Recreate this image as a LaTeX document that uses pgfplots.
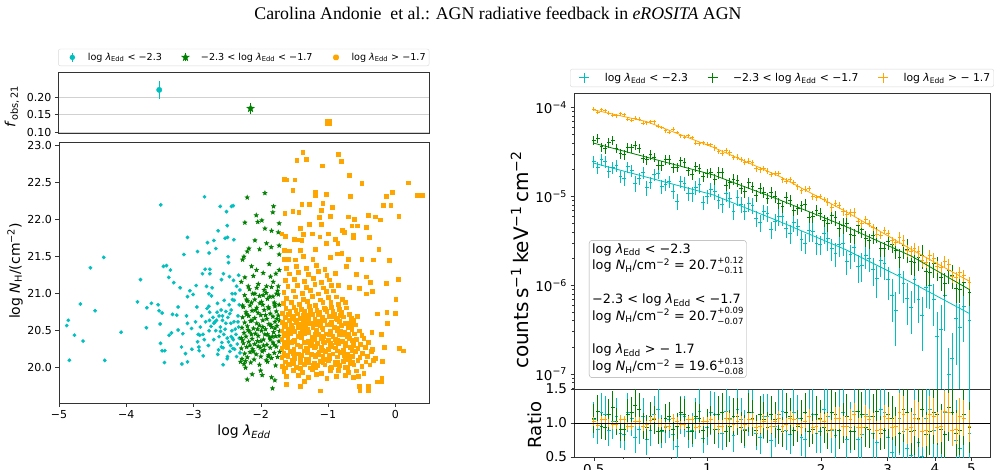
\documentclass[border=0pt]{standalone}
\usepackage{pgfplots}
\pgfplotsset{compat=1.18}
\usepackage{pgfplotstable}
\usepackage{fontspec}
\setmainfont{DejaVu Sans}
\newfontfamily\timesfont{Liberation Serif}
\usetikzlibrary{plotmarks}
\definecolor{mc}{RGB}{0,191,191}
\definecolor{mg}{RGB}{0,128,0}
\definecolor{mo}{RGB}{255,165,0}
\newcommand{\lamE}{\textit{λ}\textsubscript{Edd}}
\newcommand{\NH}{\textit{N}\textsubscript{H}}
\newcommand{\pmerr}[2]{\rlap{\raisebox{0.52em}{\fontsize{8.5}{8.5}\selectfont #1}}\raisebox{-0.3em}{\fontsize{8.5}{8.5}\selectfont #2}}
\pgfdeclareplotmark{fstar}{%
  \pgfpathmoveto{\pgfpointpolar{90}{\pgfplotmarksize}}%
  \pgfpathlineto{\pgfpointpolar{126}{0.42\pgfplotmarksize}}%
  \pgfpathlineto{\pgfpointpolar{162}{\pgfplotmarksize}}%
  \pgfpathlineto{\pgfpointpolar{198}{0.42\pgfplotmarksize}}%
  \pgfpathlineto{\pgfpointpolar{234}{\pgfplotmarksize}}%
  \pgfpathlineto{\pgfpointpolar{270}{0.42\pgfplotmarksize}}%
  \pgfpathlineto{\pgfpointpolar{306}{\pgfplotmarksize}}%
  \pgfpathlineto{\pgfpointpolar{342}{0.42\pgfplotmarksize}}%
  \pgfpathlineto{\pgfpointpolar{18}{\pgfplotmarksize}}%
  \pgfpathlineto{\pgfpointpolar{54}{0.42\pgfplotmarksize}}%
  \pgfpathclose\pgfusepathqfillstroke}

\pgfplotsset{
  myax/.style={scale only axis, anchor=south west,
    axis line style={black!80, line width=0.6pt},
    tick align=outside, tick pos=left,
    major tick length=3.5pt, minor tick length=2pt,
    every tick/.style={black!80, line width=0.6pt},
    /pgf/number format/assume math mode=true},
  ebar/.style={draw=none, mark=none,
    error bars/.cd, y dir=both, y explicit relative, x dir=both, x fixed relative=0.0115,
    error mark=none, error bar style={draw=#1, line width=0.9pt}},
}

% spectra: energy, flux, rel. error, ratio, ratio rel. error
\pgfplotstableread{
E f e r er
0.500 2.48e-5 0.15 1.047 0.25
0.524 2.58e-5 0.15 1.148 0.25
0.548 1.91e-5 0.15 0.891 0.25
0.574 2.22e-5 0.15 1.096 0.25
0.601 1.60e-5 0.18 0.832 0.28
0.630 1.96e-5 0.15 1.072 0.25
0.659 1.58e-5 0.15 0.912 0.25
0.690 1.25e-5 0.20 0.759 0.30
0.723 1.75e-5 0.15 1.122 0.25
0.757 1.29e-5 0.18 0.871 0.28
0.792 1.48e-5 0.15 1.047 0.25
0.830 8.83e-6 0.20 0.661 0.30
0.869 1.39e-5 0.18 1.096 0.28
0.910 1.07e-5 0.18 0.891 0.28
0.953 1.35e-5 0.18 1.175 0.28
0.998 1.01e-5 0.18 0.933 0.28
1.045 1.15e-5 0.20 1.122 0.30
1.094 8.05e-6 0.20 0.851 0.30
1.146 9.38e-6 0.20 1.072 0.30
1.200 9.73e-6 0.20 1.202 0.30
1.256 6.82e-6 0.20 0.912 0.30
1.315 7.94e-6 0.20 1.148 0.30
1.377 5.08e-6 0.22 0.794 0.32
1.442 6.49e-6 0.20 1.096 0.30
1.510 5.22e-6 0.22 0.955 0.32
1.581 5.93e-6 0.22 1.175 0.32
1.656 3.86e-6 0.25 0.832 0.35
1.734 4.58e-6 0.22 1.072 0.32
1.816 2.99e-6 0.25 0.759 0.35
1.901 4.06e-6 0.25 1.122 0.35
1.991 2.90e-6 0.25 0.871 0.35
2.084 3.36e-6 0.28 1.096 0.38
2.183 2.29e-6 0.30 0.813 0.40
2.285 2.98e-6 0.28 1.148 0.38
2.393 2.20e-6 0.30 0.933 0.40
2.506 1.63e-6 0.35 0.759 0.45
2.624 2.18e-6 0.30 1.122 0.40
2.748 1.50e-6 0.35 0.851 0.45
2.877 1.92e-6 0.35 1.202 0.45
3.013 1.15e-6 0.40 0.794 0.50
3.155 5.24e-7 0.60 0.398 0.70
3.304 1.04e-6 0.40 0.871 0.50
3.459 5.68e-7 0.50 0.525 0.60
3.622 6.89e-7 0.45 0.708 0.55
3.793 9.35e-7 0.40 1.072 0.50
3.972 6.98e-7 0.50 0.891 0.60
4.159 3.15e-7 0.90 0.447 0.95
4.355 1.00e-7 0.95 0.158 0.95
4.560 4.21e-7 0.70 0.741 0.80
4.775 5.71e-7 0.60 1.122 0.70
4.940 4.05e-7 0.95 0.851 0.95
0.512 2.10e-5 0.15 0.912 0.25
0.536 2.46e-5 0.15 1.122 0.25
0.561 2.13e-5 0.15 1.023 0.25
0.588 1.68e-5 0.15 0.851 0.25
0.615 2.15e-5 0.15 1.148 0.25
0.644 1.41e-5 0.20 0.794 0.30
0.675 1.85e-5 0.15 1.096 0.25
0.706 1.43e-5 0.15 0.891 0.25
0.740 1.83e-5 0.15 1.202 0.25
0.774 1.35e-5 0.15 0.933 0.25
0.811 1.14e-5 0.18 0.832 0.28
0.849 1.46e-5 0.15 1.122 0.25
0.889 1.08e-5 0.18 0.871 0.28
0.931 1.26e-5 0.18 1.072 0.28
0.975 8.65e-6 0.18 0.776 0.28
1.021 1.21e-5 0.18 1.148 0.28
1.069 8.97e-6 0.20 0.912 0.30
1.119 1.07e-5 0.20 1.175 0.30
1.172 6.84e-6 0.20 0.813 0.30
1.227 8.15e-6 0.20 1.047 0.30
1.285 8.26e-6 0.20 1.148 0.30
1.345 5.66e-6 0.20 0.851 0.30
1.409 6.75e-6 0.20 1.096 0.30
1.475 4.22e-6 0.22 0.741 0.32
1.545 5.89e-6 0.22 1.122 0.32
1.617 4.32e-6 0.22 0.891 0.32
1.694 5.12e-6 0.22 1.148 0.32
1.773 3.26e-6 0.25 0.794 0.35
1.857 4.13e-6 0.25 1.096 0.35
1.944 2.95e-6 0.25 0.851 0.35
2.036 3.84e-6 0.25 1.202 0.35
2.132 2.62e-6 0.28 0.891 0.38
2.232 2.90e-6 0.28 1.072 0.38
2.337 1.87e-6 0.30 0.759 0.40
2.447 2.64e-6 0.30 1.175 0.40
2.562 1.69e-6 0.35 0.832 0.45
2.683 2.03e-6 0.30 1.096 0.40
2.809 1.19e-6 0.40 0.708 0.50
2.942 1.75e-6 0.35 1.148 0.45
3.080 7.76e-7 0.50 0.562 0.60
3.225 1.34e-6 0.40 1.072 0.50
3.377 7.16e-7 0.50 0.631 0.60
3.536 1.15e-6 0.45 1.122 0.55
3.703 4.61e-7 0.60 0.501 0.70
3.877 9.93e-7 0.45 1.202 0.55
4.060 2.64e-7 0.90 0.355 0.95
4.251 7.66e-7 0.60 1.148 0.70
4.451 1.50e-7 0.95 0.251 0.95
4.661 3.39e-7 0.80 0.631 0.90
}\specC
\pgfplotstableread{
E f e r er
0.500 4.27e-5 0.12 1.072 0.20
0.524 3.61e-5 0.12 0.955 0.20
0.548 4.03e-5 0.12 1.122 0.20
0.574 3.48e-5 0.12 1.023 0.20
0.601 2.95e-5 0.12 0.912 0.20
0.630 3.52e-5 0.12 1.148 0.20
0.659 3.50e-5 0.12 1.202 0.20
0.690 2.58e-5 0.12 0.933 0.20
0.723 2.75e-5 0.12 1.047 0.20
0.757 2.22e-5 0.12 0.891 0.20
0.792 2.59e-5 0.12 1.096 0.20
0.830 2.14e-5 0.12 0.955 0.20
0.869 2.39e-5 0.12 1.122 0.20
0.910 1.76e-5 0.12 0.871 0.20
0.953 2.06e-5 0.12 1.072 0.20
0.998 1.82e-5 0.12 1.000 0.20
1.045 1.57e-5 0.15 0.912 0.25
1.094 1.84e-5 0.15 1.148 0.25
1.146 1.42e-5 0.15 0.955 0.25
1.200 1.51e-5 0.15 1.096 0.25
1.256 1.14e-5 0.15 0.891 0.25
1.315 1.28e-5 0.15 1.072 0.25
1.377 1.24e-5 0.15 1.122 0.25
1.442 9.59e-6 0.15 0.933 0.25
1.510 1.00e-5 0.15 1.047 0.25
1.581 7.73e-6 0.15 0.871 0.25
1.656 9.00e-6 0.15 1.096 0.25
1.734 7.24e-6 0.15 0.955 0.25
1.816 8.05e-6 0.15 1.148 0.25
1.901 5.92e-6 0.15 0.912 0.25
1.991 6.43e-6 0.15 1.072 0.25
2.084 4.94e-6 0.20 0.891 0.30
2.183 5.74e-6 0.20 1.122 0.30
2.285 4.73e-6 0.20 1.000 0.30
2.393 3.78e-6 0.20 0.871 0.30
2.506 4.67e-6 0.20 1.175 0.30
2.624 3.40e-6 0.20 0.933 0.30
2.748 3.65e-6 0.20 1.096 0.30
2.877 2.59e-6 0.20 0.851 0.30
3.013 3.13e-6 0.20 1.122 0.30
3.155 2.44e-6 0.20 0.955 0.30
3.304 2.81e-6 0.30 1.202 0.40
3.459 1.86e-6 0.30 0.871 0.40
3.622 2.05e-6 0.30 1.072 0.40
3.793 1.42e-6 0.30 0.832 0.40
3.972 1.74e-6 0.30 1.148 0.40
4.159 1.23e-6 0.30 0.912 0.40
4.355 1.48e-6 0.30 1.230 0.40
4.560 9.12e-7 0.30 0.851 0.40
4.775 1.07e-6 0.30 1.122 0.40
4.940 8.26e-7 0.30 0.933 0.40
0.512 4.55e-5 0.12 1.175 0.20
0.536 3.44e-5 0.12 0.933 0.20
0.561 4.30e-5 0.12 1.230 0.20
0.588 3.03e-5 0.12 0.912 0.20
0.615 3.53e-5 0.12 1.122 0.20
0.644 3.76e-5 0.12 1.259 0.20
0.675 2.71e-5 0.12 0.955 0.20
0.706 2.95e-5 0.12 1.096 0.20
0.740 2.23e-5 0.12 0.871 0.20
0.774 2.60e-5 0.12 1.072 0.20
0.811 2.10e-5 0.12 0.912 0.20
0.849 2.51e-5 0.12 1.148 0.20
0.889 1.94e-5 0.12 0.933 0.20
0.931 2.16e-5 0.12 1.096 0.20
0.975 1.67e-5 0.12 0.891 0.20
1.021 1.85e-5 0.12 1.047 0.20
1.069 1.86e-5 0.15 1.122 0.25
1.119 1.34e-5 0.15 0.871 0.25
1.172 1.57e-5 0.15 1.096 0.25
1.227 1.24e-5 0.15 0.933 0.25
1.285 1.42e-5 0.15 1.148 0.25
1.345 1.02e-5 0.15 0.891 0.25
1.409 1.12e-5 0.15 1.047 0.25
1.475 1.11e-5 0.15 1.122 0.25
1.545 8.39e-6 0.15 0.912 0.25
1.617 9.79e-6 0.15 1.148 0.25
1.694 7.03e-6 0.15 0.891 0.25
1.773 7.82e-6 0.15 1.072 0.25
1.857 5.87e-6 0.15 0.871 0.25
1.944 7.00e-6 0.15 1.122 0.25
2.036 5.38e-6 0.15 0.933 0.25
2.132 6.11e-6 0.20 1.148 0.30
2.232 4.39e-6 0.20 0.891 0.30
2.337 4.97e-6 0.20 1.096 0.30
2.447 3.61e-6 0.20 0.871 0.30
2.562 4.27e-6 0.20 1.122 0.30
2.683 3.17e-6 0.20 0.912 0.30
2.809 3.74e-6 0.20 1.175 0.30
2.942 2.59e-6 0.20 0.891 0.30
3.080 2.86e-6 0.20 1.072 0.30
3.225 2.07e-6 0.25 0.851 0.35
3.377 2.56e-6 0.30 1.148 0.40
3.536 1.80e-6 0.30 0.891 0.40
3.703 2.17e-6 0.30 1.202 0.40
3.877 1.40e-6 0.30 0.871 0.40
4.060 1.61e-6 0.30 1.122 0.40
4.251 1.06e-6 0.30 0.832 0.40
4.451 1.30e-6 0.30 1.148 0.40
4.661 9.02e-7 0.30 0.891 0.40
}\specG
\pgfplotstableread{
E f e r er
0.500 9.64e-5 0.05 1.023 0.06
0.524 9.44e-5 0.05 1.047 0.06
0.548 8.63e-5 0.05 1.000 0.06
0.574 8.07e-5 0.05 0.977 0.06
0.601 8.30e-5 0.05 1.047 0.06
0.630 7.24e-5 0.05 0.955 0.06
0.659 7.43e-5 0.05 1.023 0.06
0.690 6.78e-5 0.05 0.977 0.06
0.723 6.90e-5 0.05 1.072 0.06
0.757 5.97e-5 0.05 1.000 0.06
0.792 5.28e-5 0.05 0.955 0.06
0.830 5.26e-5 0.05 1.023 0.06
0.869 4.66e-5 0.05 0.977 0.06
0.910 4.62e-5 0.05 1.047 0.06
0.953 3.91e-5 0.05 0.955 0.06
0.998 3.89e-5 0.05 1.023 0.06
1.045 3.52e-5 0.07 1.000 0.10
1.094 3.08e-5 0.07 0.955 0.10
1.146 3.10e-5 0.07 1.047 0.10
1.200 2.78e-5 0.07 1.023 0.10
1.256 2.44e-5 0.07 0.977 0.10
1.315 2.39e-5 0.07 1.047 0.10
1.377 2.00e-5 0.07 0.955 0.10
1.442 1.93e-5 0.07 1.000 0.10
1.510 1.81e-5 0.07 1.023 0.10
1.581 1.54e-5 0.07 0.955 0.10
1.656 1.56e-5 0.07 1.072 0.10
1.734 1.28e-5 0.07 0.977 0.10
1.816 1.21e-5 0.07 1.023 0.10
1.901 9.93e-6 0.07 0.933 0.10
1.991 1.005e-5 0.07 1.047 0.10
2.084 8.65e-6 0.10 1.000 0.15
2.183 8.36e-6 0.10 1.072 0.15
2.285 6.71e-6 0.10 0.955 0.15
2.393 6.59e-6 0.10 1.047 0.15
2.506 5.25e-6 0.10 0.933 0.15
2.624 5.51e-6 0.10 1.096 0.15
2.748 4.49e-6 0.10 1.000 0.15
2.877 3.66e-6 0.10 0.912 0.15
3.013 3.84e-6 0.10 1.072 0.15
3.155 3.05e-6 0.10 0.955 0.15
3.304 3.20e-6 0.15 1.122 0.25
3.459 2.38e-6 0.15 0.933 0.25
3.622 2.39e-6 0.15 1.047 0.25
3.793 1.83e-6 0.15 0.891 0.25
3.972 2.02e-6 0.15 1.096 0.25
4.159 1.58e-6 0.15 0.955 0.25
4.355 1.71e-6 0.15 1.148 0.25
4.560 1.22e-6 0.15 0.912 0.25
4.775 1.29e-6 0.15 1.072 0.25
4.940 1.07e-6 0.15 0.955 0.25
0.512 8.89e-5 0.05 0.966 0.06
0.536 9.23e-5 0.05 1.047 0.06
0.561 8.24e-5 0.05 0.977 0.06
0.588 8.57e-5 0.05 1.059 0.06
0.615 7.40e-5 0.05 0.955 0.06
0.644 7.59e-5 0.05 1.023 0.06
0.675 6.70e-5 0.05 0.944 0.06
0.706 6.92e-5 0.05 1.035 0.06
0.740 6.19e-5 0.05 1.000 0.06
0.774 5.48e-5 0.05 0.955 0.06
0.811 5.71e-5 0.05 1.072 0.06
0.849 4.83e-5 0.05 0.977 0.06
0.889 4.80e-5 0.05 1.047 0.06
0.931 3.96e-5 0.05 0.933 0.06
0.975 4.04e-5 0.05 1.023 0.06
1.021 3.83e-5 0.05 1.047 0.06
1.069 3.21e-5 0.07 0.955 0.10
1.119 3.30e-5 0.07 1.072 0.10
1.172 2.77e-5 0.07 0.977 0.10
1.227 2.60e-5 0.07 1.000 0.10
1.285 2.50e-5 0.07 1.047 0.10
1.345 2.04e-5 0.07 0.933 0.10
1.409 2.06e-5 0.07 1.023 0.10
1.475 1.76e-5 0.07 0.955 0.10
1.545 1.81e-5 0.07 1.072 0.10
1.617 1.49e-5 0.07 0.977 0.10
1.694 1.44e-5 0.07 1.047 0.10
1.773 1.16e-5 0.07 0.933 0.10
1.857 1.23e-5 0.07 1.096 0.10
1.944 9.64e-6 0.07 0.955 0.10
2.036 9.31e-6 0.07 1.023 0.10
2.132 7.48e-6 0.10 0.912 0.15
2.232 7.93e-6 0.10 1.072 0.15
2.337 6.35e-6 0.10 0.955 0.15
2.447 6.67e-6 0.10 1.122 0.15
2.562 4.95e-6 0.10 0.933 0.15
2.683 4.97e-6 0.10 1.047 0.15
2.809 3.78e-6 0.10 0.891 0.15
2.942 4.15e-6 0.10 1.096 0.15
3.080 3.16e-6 0.10 0.933 0.15
3.225 3.46e-6 0.15 1.148 0.25
3.377 2.45e-6 0.15 0.912 0.25
3.536 2.58e-6 0.15 1.072 0.25
3.703 1.89e-6 0.15 0.871 0.25
3.877 2.18e-6 0.15 1.122 0.25
4.060 1.63e-6 0.15 0.933 0.25
4.251 1.85e-6 0.15 1.175 0.25
4.451 1.26e-6 0.15 0.891 0.25
4.661 1.39e-6 0.15 1.096 0.25
}\specO

\begin{document}
\begin{tikzpicture}
\useasboundingbox (0,0) rectangle (1002pt,-469pt);
\clip (0,0) rectangle (1002pt,-469pt);

\node[font=\timesfont\fontsize{17.8}{18}\selectfont, anchor=base] at (498pt,-19pt)
  {Carolina Andonie\ \ et al.: AGN radiative feedback in \textit{eROSITA} AGN};

% ---------------- top-left: f_obs panel ----------------
\begin{axis}[myax, at={(58.5pt,-133pt)}, width=370.5pt, height=61pt,
  xmin=-5, xmax=0.5, ymin=0.098, ymax=0.272,
  xtick=\empty, ytick={0.10,0.15,0.20}, yticklabels={0.10,0.15,0.20},
  tick label style={font=\fontsize{11}{12}\selectfont},
  ymajorgrids, grid style={black!18, line width=0.7pt},
  ylabel={\textit{f}\textsubscript{obs,\,21}},
  ylabel style={font=\fontsize{14}{15}\selectfont, at={(axis description cs:-0.126,0.44)}, anchor=center},
  legend columns=3,
  legend style={at={(0.5,1)}, anchor=south, yshift=6pt, draw=black!15, rounded corners=2pt,
    font=\fontsize{9.6}{10.5}\selectfont, inner xsep=2pt, inner ysep=2pt,
    nodes={inner xsep=1.5pt},
    /tikz/every even column/.append style={column sep=10pt}},
  legend cell align=left]
\addlegendimage{draw=none, legend image code/.code={\draw[mc, line width=1pt] (12pt,-4.5pt)--(12pt,4.5pt);
    \fill[mc] (12pt,0pt) circle (2.7pt); \path[draw=none] (0pt,0pt) rectangle (26pt,0.1pt);}}
\addlegendentry{log \lamE{} < −2.3}
\addlegendimage{draw=none, legend image code/.code={\draw[mg, line width=1pt] (12pt,-4pt)--(12pt,4pt);
    \path[draw=mg, fill=mg] plot[mark=fstar, mark size=4pt] coordinates {(12pt,0pt)}; \path[draw=none] (0pt,0pt) rectangle (26pt,0.1pt);}}
\addlegendentry{−2.3 < log \lamE{} < −1.7}
\addlegendimage{draw=none, legend image code/.code={\fill[mo] (9.2pt,-2.8pt) rectangle (14.8pt,2.8pt); \path[draw=none] (0pt,0pt) rectangle (26pt,0.1pt);}}
\addlegendentry{log \lamE{} > −1.7}
\addplot[only marks, mark=*, mark size=2.7pt, color=mc, forget plot,
  error bars/.cd, y dir=both, y explicit, error mark=none, error bar style={line width=1.1pt}]
  coordinates {(-3.505,0.221) +- (0,0.025)};
\addplot[only marks, mark=fstar, mark size=4pt, color=mg, forget plot,
  error bars/.cd, y dir=both, y explicit, error mark=none, error bar style={line width=1.1pt}]
  coordinates {(-2.149,0.168) +- (0,0.015)};
\addplot[only marks, mark=square*, mark size=2.8pt, color=mo, forget plot,
  error bars/.cd, y dir=both, y explicit, error mark=none, error bar style={line width=1.1pt}]
  coordinates {(-0.993,0.128) +- (0,0.004)};
\end{axis}

% ---------------- left: scatter panel ----------------
\begin{axis}[myax, at={(59pt,-403pt)}, width=370pt, height=261pt,
  xmin=-5, xmax=0.5, ymin=19.523, ymax=23.05,
  xtick={-5,-4,-3,-2,-1,0}, xticklabels={−5,−4,−3,−2,−1,0},
  ytick={20,20.5,21,21.5,22,22.5,23}, yticklabels={20.0,20.5,21.0,21.5,22.0,22.5,23.0},
  tick label style={font=\fontsize{11}{12}\selectfont},
  xlabel={log \textit{λ}\textsubscript{\textit{Edd}}},
  ylabel={log \NH/(cm\textsuperscript{−2})},
  xlabel style={font=\fontsize{14}{15}\selectfont, at={(axis description cs:0.5,-0.111)}, anchor=center},
  ylabel style={font=\fontsize{14}{15}\selectfont, at={(axis description cs:-0.119,0.506)}, anchor=center}]
\addplot[only marks, mark=*, mark size=1.7pt, color=mc] coordinates {
(-4.885,20.57)(-4.861,20.64)(-4.771,20.44)(-4.846,20.10)(-4.682,20.86)(-4.642,20.36)(-4.533,21.35)(-4.464,20.77)
(-4.335,21.49)(-4.320,20.10)(-4.077,20.48)(-3.834,20.89)(-3.789,21.19)(-3.700,20.54)(-3.695,20.81)(-3.626,20.87)
(-3.527,20.85)(-3.497,20.59)(-3.487,22.20)(-3.511,20.77)(-3.467,20.74)(-3.491,20.33)(-3.467,20.23)(-3.427,20.23)
(-3.432,20.07)(-3.447,21.37)(-3.403,21.38)(-3.343,21.32)(-3.368,21.22)(-3.294,21.15)(-3.328,20.47)(-3.363,20.44)
(-3.313,20.72)(-3.249,20.71)(-3.229,20.82)(-3.229,20.51)(-3.199,21.08)(-3.179,20.28)(-3.159,20.46)(-3.144,21.53)
(-3.120,20.19)(-3.090,21.76)(-3.090,20.08)(-3.174,20.05)(-3.105,20.70)(-3.090,20.60)(-3.090,20.96)(-3.055,21.04)
(-3.030,20.53)(-3.025,20.25)(-3.006,20.99)(-2.961,21.11)(-2.941,21.57)(-2.951,20.82)(-2.931,20.45)(-2.906,20.44)
(-2.916,20.23)(-2.867,21.27)(-2.857,20.16)(-2.837,22.31)(-2.827,21.33)(-2.807,21.10)(-2.793,21.69)(-2.768,21.55)
(-2.773,21.00)(-2.773,20.83)(-2.763,20.64)(-2.758,21.33)(-2.758,21.27)(-2.768,20.50)(-2.733,20.97)(-2.723,21.08)
(-2.698,21.72)(-2.698,20.60)(-2.669,21.61)(-2.659,20.64)(-2.644,20.87)(-2.634,21.85)(-2.629,20.24)(-2.604,22.18)
(-2.599,20.49)(-2.585,21.19)(-2.585,20.28)(-2.570,20.64)(-2.560,20.04)(-2.555,21.27)(-2.545,20.91)(-2.530,21.75)
(-2.520,20.76)(-2.510,22.11)(-2.500,21.92)(-2.495,21.76)(-2.495,20.15)(-2.485,21.50)(-2.480,21.42)(-2.466,21.23)
(-2.461,20.73)(-2.446,20.60)(-2.436,22.18)(-2.426,21.00)(-2.421,20.40)(-2.416,20.26)(-2.411,22.19)(-2.401,21.73)
(-2.396,20.91)(-2.406,21.18)
(-2.65,20.75)(-2.62,20.70)(-2.60,20.55)(-2.55,20.45)(-2.52,20.60)(-2.50,20.40)(-2.48,20.35)(-2.45,20.30)
(-2.43,20.50)(-2.41,20.38)(-2.39,20.25)(-2.37,20.45)(-2.35,20.32)(-2.33,20.55)(-2.31,20.20)(-2.36,20.15)
(-2.40,20.62)(-2.44,20.78)(-2.47,20.85)(-2.53,20.52)(-2.58,20.34)(-2.62,20.42)(-2.67,20.50)(-2.70,20.38)
(-2.74,20.56)(-2.78,20.30)(-2.82,20.62)(-2.86,20.45)(-2.90,20.55)(-2.94,20.35)(-2.97,20.62)(-2.34,20.70)
(-2.32,20.85)(-2.38,21.00)(-2.42,20.92)(-2.31,21.05)(-2.33,21.25)(-2.36,21.10)(-2.56,20.27)(-2.64,20.18)
(-2.50,20.12)(-2.46,20.22)(-2.71,20.68)(-2.76,20.75)(-2.80,20.80)(-2.88,20.70)(-2.84,20.38)(-2.92,20.28)
(-2.68,20.62)(-2.59,20.78)(-2.32,20.40)(-2.34,20.62)(-2.38,20.52)(-2.44,20.42)(-2.49,20.68)(-2.57,20.70)
};
\addplot[only marks, mark=fstar, mark size=2.3pt, color=mg] coordinates {
(-1.939,22.36)(-2.202,22.30)(-1.811,22.18)(-1.821,22.10)(-2.068,22.06)(-2.237,21.96)(-1.985,21.99)(-2.045,21.97)
(-1.727,21.95)(-1.939,21.88)(-1.840,21.85)(-1.741,21.83)(-2.087,21.72)(-1.915,21.68)(-1.846,21.63)(-1.727,21.65)
(-2.177,21.61)(-2.202,21.57)(-2.018,21.60)(-1.727,21.53)(-2.251,21.50)(-2.138,21.37)(-2.271,21.46)(-1.876,21.40)
(-2.063,21.32)(-1.965,21.28)(-2.112,21.24)(-2.237,21.22)(-1.856,21.23)(-1.776,21.27)(-1.727,21.32)(-1.816,21.16)
(-2.187,21.10)(-2.038,21.13)(-1.915,21.10)(-1.741,21.10)(-2.291,21.16)(-2.087,21.00)(-1.965,20.98)(-1.866,20.96)
(-2.212,20.92)(-1.767,21.00)(-2.138,20.88)(-2.013,20.87)(-1.791,20.86)(-2.271,20.84)(-1.890,20.82)(-1.727,20.85)
(-2.202,19.84)(-2.128,19.91)(-1.980,19.90)(-1.840,19.87)(-1.791,19.83)(-1.826,19.72)(-2.227,20.00)(-2.003,19.96)
(-2.301,20.08)
(-2.25,20.05)(-2.15,20.07)(-2.02,20.04)(-1.90,20.08)(-1.78,20.03)
(-2.28,20.12)(-2.20,20.14)(-2.10,20.11)(-2.00,20.15)(-1.92,20.10)(-1.84,20.13)(-1.75,20.145)
(-2.24,20.19)(-2.16,20.21)(-2.07,20.18)(-1.98,20.22)(-1.88,20.17)(-1.80,20.20)(-1.72,20.215)
(-2.29,20.26)(-2.21,20.28)(-2.12,20.25)(-2.04,20.29)(-1.95,20.24)(-1.86,20.27)(-1.77,20.285)
(-2.26,20.33)(-2.18,20.35)(-2.09,20.32)(-2.00,20.36)(-1.91,20.31)(-1.82,20.34)(-1.73,20.355)
(-2.29,20.40)(-2.22,20.42)(-2.13,20.39)(-2.04,20.43)(-1.96,20.38)(-1.87,20.41)(-1.78,20.425)
(-2.25,20.47)(-2.17,20.49)(-2.08,20.46)(-1.99,20.50)(-1.90,20.45)(-1.81,20.48)(-1.72,20.495)
(-2.28,20.54)(-2.20,20.56)(-2.11,20.53)(-2.02,20.57)(-1.93,20.52)(-1.84,20.55)(-1.76,20.565)
(-2.24,20.61)(-2.15,20.63)(-2.06,20.60)(-1.97,20.64)(-1.88,20.59)(-1.79,20.62)(-1.72,20.635)
(-2.27,20.68)(-2.18,20.70)(-2.09,20.67)(-2.00,20.71)(-1.91,20.66)(-1.82,20.69)(-1.74,20.705)
(-2.22,20.75)(-2.13,20.77)(-2.04,20.74)(-1.95,20.78)(-1.86,20.73)(-1.77,20.76)
(-2.26,20.82)(-2.16,20.84)(-2.06,20.81)(-1.97,20.85)(-1.88,20.80)(-1.79,20.83)
(-2.20,20.90)(-2.09,20.92)(-1.99,20.89)(-1.90,20.93)(-1.80,20.88)
(-2.24,20.98)(-2.12,21.00)(-2.02,20.97)(-1.92,21.01)(-1.82,20.96)(-1.74,20.99)
(-2.17,21.06)(-2.06,21.08)(-1.95,21.05)(-1.84,21.09)(-1.75,21.04)
(-2.23,20.09)(-2.11,20.22)(-2.05,20.36)(-1.94,20.45)(-1.85,20.58)(-1.76,20.66)(-2.19,20.51)(-2.13,20.64)
(-2.01,20.27)(-1.89,20.15)(-1.80,20.31)(-1.73,20.43)(-2.27,20.37)(-2.16,20.30)(-1.97,20.55)(-1.86,20.38)
(-2.08,20.78)(-1.93,20.71)(-1.79,20.53)(-2.21,20.72)(-2.05,20.52)(-1.96,20.30)(-1.83,20.42)(-2.14,20.45)
};
\addplot[only marks, mark=square*, mark size=1.9pt, color=mo] coordinates {
(-1.378,22.91)(-1.467,22.80)(-1.328,22.82)(-0.847,22.89)(-0.807,22.79)(-1.085,22.73)(-0.683,22.60)(-1.656,22.55)
(-1.626,22.54)(-1.497,22.54)(-0.500,22.49)(-1.527,22.40)(0.195,22.50)(-1.194,22.37)(-1.194,22.33)(-1.031,22.35)
(-0.673,22.32)(-0.142,22.32)(-0.043,22.37)(0.324,22.33)(0.398,22.33)(-1.393,22.21)(-1.279,22.21)(-1.081,22.22)
(-0.936,22.17)(-0.177,22.20)(-0.068,22.20)(-1.646,22.09)(-1.527,22.11)(-1.438,22.10)(-1.106,22.13)(-1.130,22.03)
(-0.971,22.05)(-0.703,22.04)(-0.609,22.01)(-0.401,22.06)(-0.296,22.04)(-0.227,22.00)(0.050,22.05)(-1.413,21.88)
(-1.279,21.94)(-1.101,21.94)(-0.793,21.86)(-0.763,21.83)(-0.649,21.92)(-0.570,21.92)(-0.431,21.90)(-0.629,21.79)
(-0.629,21.76)(-0.386,21.76)(-1.69,21.81)(-1.641,21.78)(-1.368,21.80)(-1.239,21.81)(-1.125,21.77)(-0.996,21.81)
(-0.892,21.74)(-1.502,21.74)(-1.438,21.73)(-1.393,21.72)(-0.857,21.68)(-1.031,21.68)(-1.194,21.60)(-0.247,21.60)
(-1.656,21.59)(-1.576,21.58)(-1.418,21.59)(-0.862,21.54)(-0.798,21.55)(-0.704,21.47)(-0.500,21.47)(-0.327,21.46)
(-0.088,21.45)(-1.656,21.47)(-1.591,21.47)(-1.492,21.46)(-1.368,21.51)(-1.229,21.47)(-0.971,21.49)(-0.733,21.37)
(0.045,21.20)(-0.580,21.26)(-0.431,21.23)(-0.371,21.16)(-0.133,21.14)(-0.683,21.09)(-0.535,21.07)(-0.341,21.03)
(-0.431,21.00)(0.005,20.93)(-0.267,20.73)(-0.128,20.75)(0.000,20.74)(-0.118,20.60)(-0.351,20.48)(-0.212,20.45)
(-0.162,20.28)(0.055,20.26)(0.119,20.23)(-0.197,20.09)(-0.267,19.81)(-0.202,19.86)(-0.202,19.81)(-0.540,19.75)
(-0.401,19.75)(-0.530,19.69)(-0.406,19.69)(-1.115,19.69)(-1.413,19.75)(-1.621,19.78)(-1.353,19.82)
(-1.62,19.88)(-1.45,19.90)(-1.30,19.87)(-1.18,19.91)(-1.02,19.86)(-0.88,19.89)(-0.74,19.90)(-0.63,19.87)(-0.55,19.89)
(-1.66,19.95)(-1.52,19.97)(-1.38,19.94)(-1.24,19.98)(-1.10,19.93)(-0.97,19.96)(-0.85,19.97)(-0.70,19.94)(-0.58,19.96)(-0.47,19.93)
(-1.68,20.02)(-1.58,20.04)(-1.47,20.01)(-1.36,20.05)(-1.27,20.00)(-1.16,20.03)(-1.05,20.04)(-0.95,20.01)(-0.83,20.03)(-0.72,20.00)(-0.62,20.04)(-0.50,20.02)(-0.38,20.04)
(-1.64,20.08)(-1.54,20.10)(-1.42,20.07)(-1.33,20.11)(-1.21,20.06)(-1.12,20.09)(-1.00,20.10)(-0.90,20.07)(-0.78,20.09)(-0.67,20.06)(-0.56,20.10)(-0.44,20.08)(-0.33,20.10)
(-1.69,20.14)(-1.60,20.16)(-1.50,20.13)(-1.40,20.17)(-1.30,20.12)(-1.19,20.15)(-1.08,20.16)(-0.98,20.13)(-0.87,20.15)(-0.75,20.12)(-0.64,20.16)(-0.53,20.14)(-0.42,20.16)(-0.30,20.13)
(-1.66,20.20)(-1.56,20.22)(-1.45,20.19)(-1.35,20.23)(-1.25,20.18)(-1.14,20.21)(-1.04,20.22)(-0.93,20.19)(-0.82,20.21)(-0.71,20.18)(-0.60,20.22)(-0.49,20.20)(-0.36,20.22)
(-1.69,20.26)(-1.61,20.28)(-1.51,20.25)(-1.41,20.29)(-1.31,20.24)(-1.21,20.27)(-1.10,20.28)(-1.00,20.25)(-0.89,20.27)(-0.78,20.24)(-0.67,20.28)(-0.56,20.26)(-0.45,20.28)(-0.34,20.25)
(-1.65,20.32)(-1.55,20.34)(-1.46,20.31)(-1.36,20.35)(-1.26,20.30)(-1.16,20.33)(-1.06,20.34)(-0.95,20.31)(-0.85,20.33)(-0.74,20.30)(-0.63,20.34)(-0.52,20.32)(-0.40,20.34)
(-1.69,20.38)(-1.60,20.40)(-1.50,20.37)(-1.40,20.41)(-1.30,20.36)(-1.20,20.39)(-1.10,20.40)(-1.00,20.37)(-0.90,20.39)(-0.79,20.36)(-0.69,20.40)(-0.58,20.38)(-0.47,20.40)
(-1.66,20.44)(-1.56,20.46)(-1.45,20.43)(-1.35,20.47)(-1.24,20.42)(-1.14,20.45)(-1.03,20.46)(-0.93,20.43)(-0.83,20.45)(-0.72,20.42)(-0.61,20.46)(-0.50,20.44)
(-1.69,20.50)(-1.60,20.52)(-1.50,20.49)(-1.39,20.53)(-1.29,20.48)(-1.18,20.51)(-1.08,20.52)(-0.97,20.49)(-0.87,20.51)(-0.76,20.48)(-0.65,20.52)(-0.54,20.50)
(-1.65,20.56)(-1.55,20.58)(-1.44,20.55)(-1.34,20.59)(-1.23,20.54)(-1.12,20.57)(-1.02,20.58)(-0.91,20.55)(-0.80,20.57)(-0.70,20.54)(-0.59,20.58)
(-1.68,20.62)(-1.58,20.64)(-1.47,20.61)(-1.37,20.65)(-1.26,20.60)(-1.16,20.63)(-1.05,20.64)(-0.95,20.61)(-0.84,20.63)(-0.73,20.60)(-0.62,20.64)
(-1.64,20.68)(-1.53,20.70)(-1.42,20.67)(-1.31,20.71)(-1.20,20.66)(-1.09,20.69)(-0.99,20.70)(-0.88,20.67)(-0.77,20.69)(-0.66,20.66)(-0.57,20.70)
(-1.68,20.74)(-1.57,20.76)(-1.46,20.73)(-1.35,20.77)(-1.24,20.72)(-1.13,20.75)(-1.02,20.76)(-0.91,20.73)(-0.80,20.75)(-0.69,20.72)
(-1.63,20.80)(-1.51,20.82)(-1.40,20.79)(-1.28,20.83)(-1.17,20.78)(-1.06,20.81)(-0.95,20.82)(-0.84,20.79)(-0.73,20.81)
(-1.67,20.87)(-1.55,20.89)(-1.43,20.86)(-1.31,20.90)(-1.19,20.85)(-1.08,20.88)(-0.96,20.89)(-0.85,20.86)(-0.75,20.88)
(-1.62,20.94)(-1.49,20.96)(-1.37,20.93)(-1.24,20.97)(-1.12,20.92)(-1.00,20.95)(-0.88,20.96)(-0.79,20.93)
(-1.66,21.02)(-1.52,21.04)(-1.39,21.01)(-1.27,21.05)(-1.15,21.00)(-1.03,21.03)(-0.92,21.04)
(-1.60,21.10)(-1.46,21.12)(-1.33,21.09)(-1.20,21.13)(-1.07,21.08)(-0.95,21.11)(-0.85,21.12)
(-1.64,21.18)(-1.50,21.20)(-1.36,21.17)(-1.22,21.21)(-1.10,21.16)(-0.98,21.19)
(-1.58,21.27)(-1.44,21.29)(-1.30,21.26)(-1.15,21.30)(-1.02,21.25)(-0.90,21.28)
(-1.62,21.35)(-1.47,21.37)(-1.33,21.34)(-1.18,21.38)(-1.05,21.33)
(-1.59,20.05)(-1.41,20.11)(-1.22,20.03)(-1.06,20.12)(-0.88,20.05)(-0.69,20.13)(-1.52,20.19)(-1.33,20.26)
(-1.15,20.18)(-0.97,20.29)(-0.79,20.21)(-0.62,20.30)(-1.62,20.35)(-1.43,20.42)(-1.25,20.36)(-1.07,20.43)
(-0.88,20.35)(-0.70,20.45)(-1.56,20.50)(-1.37,20.56)(-1.18,20.48)(-1.00,20.58)(-0.82,20.50)(-0.66,20.61)
(-1.49,20.65)(-1.29,20.70)(-1.11,20.63)(-0.93,20.70)
(-1.63,20.00)(-1.52,20.06)(-1.41,19.99)(-1.30,20.07)(-1.19,20.00)(-1.08,20.07)(-0.97,20.00)(-0.86,20.07)(-0.75,20.01)(-0.64,20.08)
(-1.64,20.17)(-1.53,20.23)(-1.42,20.16)(-1.31,20.21)(-1.20,20.17)(-1.09,20.24)(-0.98,20.17)(-0.87,20.23)(-0.76,20.17)(-0.65,20.24)
(-1.63,20.29)(-1.52,20.36)(-1.41,20.29)(-1.30,20.34)(-1.19,20.29)(-1.08,20.36)(-0.97,20.33)(-0.86,20.37)(-0.75,20.33)(-0.64,20.37)
(-1.64,20.47)(-1.53,20.53)(-1.42,20.47)(-1.31,20.52)(-1.20,20.45)(-1.09,20.54)(-0.98,20.45)(-0.87,20.54)(-0.76,20.45)(-0.66,20.55)
(-1.63,20.59)(-1.52,20.67)(-1.41,20.59)(-1.30,20.66)(-1.19,20.59)(-1.08,20.66)(-0.97,20.59)(-0.86,20.66)(-0.75,20.60)(-0.65,20.67)
(-1.60,20.72)(-1.48,20.78)(-1.37,20.71)(-1.26,20.78)(-1.15,20.72)(-1.04,20.79)(-0.93,20.76)(-0.82,20.71)
};
\end{axis}

% ---------------- right: spectra ----------------
\begin{axis}[myax, at={(574pt,-389pt)}, width=416pt, height=296pt,
  xmode=log, ymode=log, xmin=0.443, xmax=5.6, ymin=6.8e-8, ymax=1.46e-4,
  xtick=\empty, ytick={1e-7,1e-6,1e-5,1e-4},
  yticklabels={10\textsuperscript{−7},10\textsuperscript{−6},10\textsuperscript{−5},10\textsuperscript{−4}},
  minor ytick={7e-8,8e-8,9e-8,2e-7,3e-7,4e-7,5e-7,6e-7,7e-7,8e-7,9e-7,2e-6,3e-6,4e-6,5e-6,6e-6,7e-6,8e-6,9e-6,2e-5,3e-5,4e-5,5e-5,6e-5,7e-5,8e-5,9e-5},
  tick label style={font=\fontsize{13.5}{14}\selectfont},
  ylabel={counts\,s\textsuperscript{−1}\,keV\textsuperscript{−1}\,cm\textsuperscript{−2}},
  ylabel style={font=\fontsize{20}{21}\selectfont, at={(axis description cs:-0.13,0.436)}, anchor=center},
  legend columns=3,
  legend style={at={(0.5,1)}, anchor=south, yshift=6pt, draw=black!15, rounded corners=2pt,
    font=\fontsize{10.8}{11.5}\selectfont, inner xsep=2pt, inner ysep=2pt,
    nodes={inner xsep=1.5pt},
    /tikz/every even column/.append style={column sep=11pt}},
  legend cell align=left]
\addlegendimage{draw=none, legend image code/.code={\draw[mc, line width=1pt] (7pt,0pt)--(17pt,0pt) (12pt,-5pt)--(12pt,5pt); \path[draw=none] (0pt,0pt) rectangle (31pt,0.1pt);}}
\addlegendentry{log \lamE{} < −2.3}
\addlegendimage{draw=none, legend image code/.code={\draw[mg, line width=1pt] (7pt,0pt)--(17pt,0pt) (12pt,-5pt)--(12pt,5pt); \path[draw=none] (0pt,0pt) rectangle (31pt,0.1pt);}}
\addlegendentry{−2.3 < log \lamE{} < −1.7}
\addlegendimage{draw=none, legend image code/.code={\draw[mo, line width=1pt] (7pt,0pt)--(17pt,0pt) (12pt,-5pt)--(12pt,5pt); \path[draw=none] (0pt,0pt) rectangle (31pt,0.1pt);}}
\addlegendentry{log \lamE{} > − 1.7}
\addplot[forget plot, ebar=mc] table[x=E, y=f, y error=e] {\specC};
\addplot[forget plot, ebar=mg] table[x=E, y=f, y error=e] {\specG};
\addplot[forget plot, ebar=mo] table[x=E, y=f, y error=e] {\specO};
\addplot[mc, line width=0.8pt, forget plot] coordinates {(0.5,2.37e-5)(1.033,1.045e-5)(1.549,5.24e-6)(2.322,2.52e-6)(3.475,1.07e-6)(4.94,4.81e-7)};
\addplot[mg, line width=0.8pt, forget plot] coordinates {(0.5,3.98e-5)(1.033,1.754e-5)(1.549,9.18e-6)(2.322,4.60e-6)(3.475,2.12e-6)(4.94,8.95e-7)};
\addplot[mo, line width=0.8pt, forget plot] coordinates {(0.5,9.42e-5)(0.689,6.97e-5)(1.033,3.59e-5)(1.552,1.68e-5)(2.322,6.78e-6)(3.475,2.52e-6)(4.94,1.11e-6)};
\node[draw=black!35, rounded corners=3pt, fill=white, anchor=north west, align=left, inner sep=3pt,
  font=\fontsize{12.8}{12.6}\selectfont] at (rel axis cs:0.036,0.503)
  {log \lamE{} < −2.3\\
   log \NH/cm\textsuperscript{−2} = 20.7\pmerr{+0.12}{−0.11}\\[19pt]
   −2.3 < log \lamE{} < −1.7\\
   log \NH/cm\textsuperscript{−2} = 20.7\pmerr{+0.09}{−0.07}\\[19pt]
   log \lamE{} > − 1.7\\
   log \NH/cm\textsuperscript{−2} = 19.6\pmerr{+0.13}{−0.08}};
\end{axis}

% ---------------- right: ratio ----------------
\begin{axis}[myax, at={(574pt,-457pt)}, width=416pt, height=68pt,
  xmode=log, xmin=0.443, xmax=5.6, ymin=0.5, ymax=1.5,
  xtick={0.5,1,2,3,4,5}, xticklabels={0.5,1,2,3,4,5},
  minor xtick={0.6,0.7,0.8,0.9},
  ytick={0.5,1,1.5}, yticklabels={0.5,1.0,1.5},
  tick label style={font=\fontsize{13.5}{14}\selectfont},
  ylabel={Ratio},
  ylabel style={font=\fontsize{18}{19}\selectfont, at={(axis description cs:-0.094,0.47)}, anchor=center}]
\addplot[ebar=mc] table[x=E, y=r, y error=er] {\specC};
\addplot[ebar=mg] table[x=E, y=r, y error=er] {\specG};
\addplot[ebar=mo] table[x=E, y=r, y error=er] {\specO};
\addplot[black, line width=0.8pt] coordinates {(0.443,1)(5.6,1)};
\end{axis}
\end{tikzpicture}
\end{document}
